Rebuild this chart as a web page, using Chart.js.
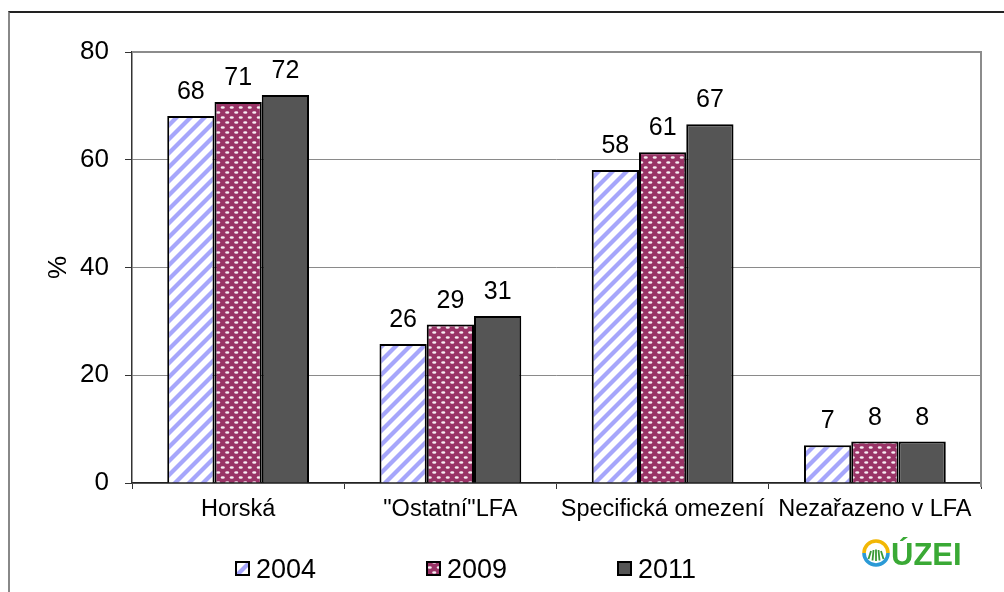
<!DOCTYPE html>
<html>
<head>
<meta charset="utf-8">
<script src="https://cdn.jsdelivr.net/npm/chart.js@4/dist/chart.umd.min.js"></script>
<style>
  html, body { margin: 0; padding: 0; background: #fff; }
  #wrap { position: relative; width: 1004px; height: 592px; overflow: hidden; }
  #frame { position: absolute; left: 8px; top: 11px; width: 1000px; height: 600px;
           border-top: 2px solid #222; border-left: 2px solid #888; box-sizing: border-box; }
  canvas { position: absolute; left: 0; top: 0; }
  #logo { position: absolute; left: 862px; top: 537px; }
</style>
</head>
<body>
<div id="wrap">
  <div id="frame"></div>
  <canvas id="chart" width="1004" height="592"></canvas>
  <svg id="logo" width="110" height="34" viewBox="0 0 110 34">
    <path d="M2 16 A12 12 0 0 1 26 16" fill="none" stroke="#f2b705" stroke-width="3.6"/>
    <path d="M2 16 A12 12 0 0 0 26 16" fill="none" stroke="#2b9ad6" stroke-width="3.6"/>
    <g stroke="#3a9a35" stroke-width="1.8">
      <line x1="6.5" y1="22" x2="9" y2="14"/>
      <line x1="10.5" y1="23.5" x2="11.5" y2="13"/>
      <line x1="14" y1="24" x2="14" y2="12.5"/>
      <line x1="17.5" y1="23.5" x2="16.5" y2="13"/>
      <line x1="21.5" y1="22" x2="19" y2="14"/>
    </g>
    <text x="29" y="28" font-family="Liberation Sans, Arial, sans-serif" font-weight="bold"
          font-size="31" fill="#3aa935">ÚZEI</text>
  </svg>
</div>
<script>
// Categories, years and shares (%) of each group
const categories = ['Horská', '"Ostatní"LFA', 'Specifická omezení', 'Nezařazeno v LFA'];
const years = ['2004', '2009', '2011'];
const values2004 = [68.1, 25.8, 58.1, 7.0];
const values2009 = [70.7, 29.4, 61.4, 7.7];
const values2011 = [72.0, 31.0, 66.6, 7.7];
const yTicks = [0, 20, 40, 60, 80];

// Fill patterns for the bars
function stripePattern() {
  const n = 14;
  const c = document.createElement('canvas');
  c.width = n; c.height = n;
  const g = c.getContext('2d');
  g.fillStyle = '#ffffff';
  g.fillRect(0, 0, n, n);
  g.strokeStyle = '#a6a6fb';
  g.lineWidth = 4.2;
  [[-n / 2, n / 2, n / 2, -n / 2], [0, n, n, 0], [n / 2, n * 1.5, n * 1.5, n / 2]].forEach(([a, b, c2, d]) => {
    g.beginPath(); g.moveTo(a, b); g.lineTo(c2, d); g.stroke();
  });
  return g.createPattern(c, 'repeat');
}
function dotPattern() {
  const c = document.createElement('canvas');
  c.width = 9; c.height = 10;
  const g = c.getContext('2d');
  g.fillStyle = '#993366';
  g.fillRect(0, 0, 9, 10);
  g.fillStyle = '#f8eef3';
  [[2.25, 2.5], [6.75, 7.5]].forEach(([x, y]) => {
    g.beginPath(); g.ellipse(x, y, 2.1, 1.3, 0, 0, Math.PI * 2); g.fill();
  });
  return g.createPattern(c, 'repeat');
}

const fills = [stripePattern(), dotPattern(), '#555555'];
const seriesValues = [values2004, values2009, values2011];

// Plot frame (top and right edges of the plot area)
const framePlugin = {
  id: 'plotFrame',
  beforeDatasetsDraw(chart) {
    const a = chart.chartArea, g = chart.ctx;
    g.save();
    g.strokeStyle = '#8c8c8c';
    g.lineWidth = 2;
    g.beginPath();
    g.moveTo(a.left, a.top);
    g.lineTo(a.right, a.top);
    g.lineTo(a.right, a.bottom + 4);
    g.stroke();
    g.restore();
  }
};

// Value labels above the bars
const valueLabels = {
  id: 'valueLabels',
  afterDatasetsDraw(chart) {
    const g = chart.ctx;
    g.save();
    g.font = '25px "Liberation Sans", Arial, sans-serif';
    g.fillStyle = '#000';
    g.textAlign = 'center';
    g.textBaseline = 'alphabetic';
    chart.data.datasets.forEach((ds, i) => {
      chart.getDatasetMeta(i).data.forEach((bar, j) => {
        g.fillText(String(Math.round(ds.data[j])), bar.x, bar.y - 17);
      });
    });
    g.restore();
  }
};

// Legend row along the bottom
const legendRow = {
  id: 'legendRow',
  afterDraw(chart) {
    const g = chart.ctx;
    const xs = [236, 427, 618];
    g.save();
    g.font = '27px "Liberation Sans", Arial, sans-serif';
    g.textBaseline = 'alphabetic';
    chart.data.datasets.forEach((ds, i) => {
      const x = xs[i];
      g.fillStyle = ds.backgroundColor;
      g.fillRect(x, 562, 13, 13);
      g.strokeStyle = '#000';
      g.lineWidth = 2;
      g.strokeRect(x, 562, 13, 13);
      g.fillStyle = '#000';
      g.fillText(ds.label, x + 20, 578);
    });
    g.restore();
  }
};

new Chart(document.getElementById('chart'), {
  type: 'bar',
  data: {
    labels: categories,
    datasets: years.map((y, i) => ({
      label: y,
      data: seriesValues[i],
      backgroundColor: fills[i],
      borderColor: '#000',
      borderWidth: 2,
      categoryPercentage: 0.668,
      barPercentage: 1.0
    }))
  },
  options: {
    responsive: false,
    animation: false,
    layout: { padding: { left: 0, right: 23, top: 52, bottom: 0 } },
    plugins: { legend: { display: false }, tooltip: { enabled: false } },
    scales: {
      x: {
        afterFit(s) { s.height = 109; },
        grid: { display: true, drawOnChartArea: false, drawTicks: true, tickLength: 6,
                color: '#333', offset: true },
        border: { color: '#222', width: 1.5 },
        ticks: { color: '#000', padding: 6,
                 font: { family: '"Liberation Sans", Arial, sans-serif', size: 23.5 } }
      },
      y: {
        min: 0, max: 80,
        afterFit(s) { s.width = 132; },
        afterBuildTicks(s) { s.ticks = yTicks.map(v => ({ value: v })); },
        grid: {
          color: '#8a8a8a', lineWidth: 1, tickLength: 7, tickColor: '#333',
          drawTicks: true
        },
        border: { color: '#333', width: 1.5 },
        ticks: { color: '#000', padding: 16,
                 font: { family: '"Liberation Sans", Arial, sans-serif', size: 26 } },
        title: { display: true, text: '%', color: '#000',
                 padding: { top: 43, bottom: 0 },
                 font: { family: '"Liberation Sans", Arial, sans-serif', size: 26 } }
      }
    }
  },
  plugins: [framePlugin, valueLabels, legendRow]
});
</script>
</body>
</html>
